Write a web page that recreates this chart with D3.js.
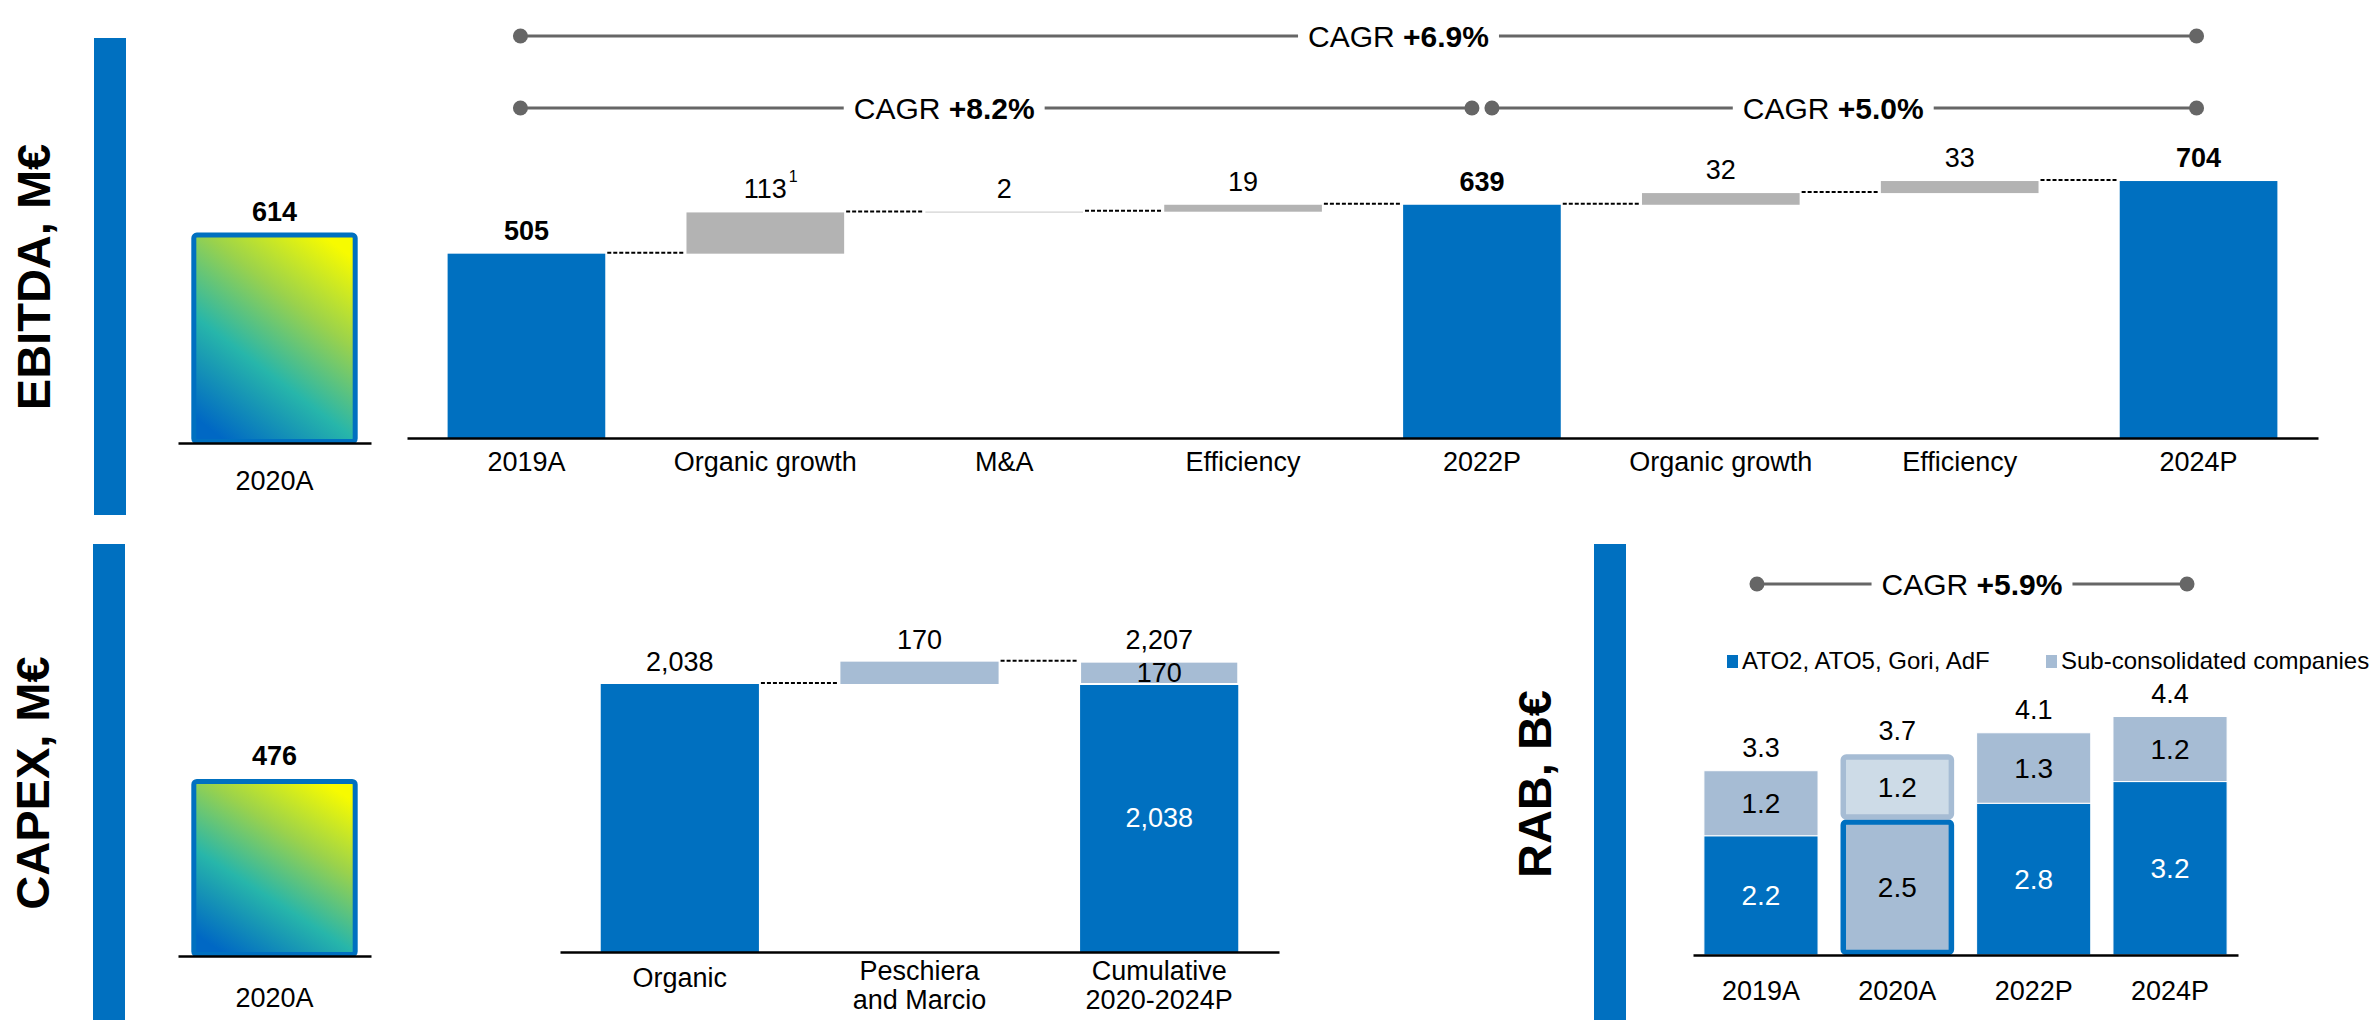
<!DOCTYPE html>
<html>
<head>
<meta charset="utf-8">
<script src="https://cdn.jsdelivr.net/npm/d3@7"></script>
<style>
    body { margin: 0; background: #fff; }
    svg text { font-family: "Liberation Sans", Arial, sans-serif; fill: #000; }
</style>
</head>
<body>
<svg id="chart" width="2374" height="1020"></svg>
<script>
// ---- data ----
var ebitdaCats = ["2019A", "Organic growth", "M&A", "Efficiency", "2022P", "Organic growth", "Efficiency", "2024P"];
var ebitdaValues = [505, 113, 2, 19, 639, 32, 33, 704];
var ebitdaTypes = ["total", "delta", "delta", "delta", "total", "delta", "delta", "total"];
var ebitdaNotes = ["", "1", "", "", "", "", "", ""];
var ebitdaCagr = [
    {from: 0, to: 7, label: "+6.9%"},
    {from: 0, to: 4, label: "+8.2%"},
    {from: 4, to: 7, label: "+5.0%"}
];
var ebitda2020 = {cat: "2020A", value: 614};

var capexCats = ["Organic", "Peschiera\nand Marcio", "Cumulative\n2020-2024P"];
var capexValues = [2038, 170, 2207];
var capexTypes = ["total", "delta", "stack"];
var capexStack = [2038, 170];
var capex2020 = {cat: "2020A", value: 476};

var rabYears = ["2019A", "2020A", "2022P", "2024P"];
var rabCore = [2.2, 2.5, 2.8, 3.2];
var rabSub = [1.2, 1.2, 1.3, 1.2];
var rabTotal = [3.3, 3.7, 4.1, 4.4];
var rabSeries = ["ATO2, ATO5, Gori, AdF", "Sub-consolidated companies"];
var rabHighlight = "2020A";
var rabCagr = [{from: 0, to: 3, label: "+5.9%"}];

// ---- styles ----
var BLUE = "#0070c0", GREY = "#b3b3b3", LIGHT = "#a6bcd4", LIGHTER = "#cddbe7", LINE_GREY = "#666666";
var FS = 27;
var fmt = d3.format(",");

var svg = d3.select("#chart");

// gradient used by the two 2020A boxes
var grad = svg.append("defs").append("linearGradient")
    .attr("id", "boxGrad")
    .attr("x1", 0.2).attr("y1", 1).attr("x2", 0.8).attr("y2", 0);
grad.append("stop").attr("offset", 0).attr("stop-color", "#0068c4");
grad.append("stop").attr("offset", 0.36).attr("stop-color", "#27b6aa");
grad.append("stop").attr("offset", 0.68).attr("stop-color", "#9ad24c");
grad.append("stop").attr("offset", 1).attr("stop-color", "#f7fb00");

// section title with the blue bar beside it
function sectionTitle(text, tx, ty, barX, barY0, barY1) {
    svg.append("rect")
        .attr("x", barX).attr("y", barY0)
        .attr("width", 32).attr("height", barY1 - barY0)
        .attr("fill", BLUE);
    svg.append("text")
        .attr("transform", "translate(" + tx + "," + ty + ") rotate(-90)")
        .attr("text-anchor", "middle")
        .style("font-size", "47px").style("font-weight", "bold")
        .text(text);
}

// running totals for a waterfall
function waterfall(values, types) {
    var run = 0;
    return values.map(function (v, i) {
        var d = {i: i, v: v, type: types[i]};
        if (types[i] === "delta") {
            d.y0 = run; d.y1 = run + v; run += v;
        } else {
            d.y0 = 0; d.y1 = v; run = v;
        }
        d.end = run;
        return d;
    });
}

function drawAxis(g, x, yPos, labels, labelY, singleShift) {
    var ax = g.append("g")
        .attr("transform", "translate(0," + yPos + ")")
        .call(d3.axisBottom(x).tickSize(0).tickSizeOuter(0).tickFormat(function (d, i) { return labels[i]; }));
    ax.select(".domain").attr("stroke", "#000").attr("stroke-width", 2.5);
    ax.selectAll(".tick text").each(function (d, i) {
        var t = d3.select(this);
        var lines = labels[i].split("\n");
        var yy = labelY + (lines.length === 1 ? (singleShift || 0) : 0);
        t.text(null).attr("y", yy).attr("dy", null)
            .style("font-size", FS + "px").attr("fill", "#000");
        lines.forEach(function (l, k) {
            t.append("tspan").attr("x", 0).attr("dy", k === 0 ? 0 : 29).text(l);
        });
    });
    ax.attr("font-family", null).attr("font-size", null);
    return ax;
}

function cagrLine(g, xa, xb, y, label, textX) {
    var t = g.append("text")
        .attr("x", textX).attr("y", y).attr("dy", "0.35em")
        .attr("text-anchor", "middle")
        .style("font-size", "30px");
    t.append("tspan").text("CAGR ");
    t.append("tspan").style("font-weight", "bold").text(label);
    var w = t.node().getComputedTextLength();
    g.append("line").attr("x1", xa).attr("x2", textX - w / 2 - 10).attr("y1", y).attr("y2", y)
        .attr("stroke", LINE_GREY).attr("stroke-width", 3);
    g.append("line").attr("x1", textX + w / 2 + 10).attr("x2", xb).attr("y1", y).attr("y2", y)
        .attr("stroke", LINE_GREY).attr("stroke-width", 3);
    g.selectAll(null).data([xa, xb]).enter().append("circle")
        .attr("cx", function (d) { return d; }).attr("cy", y).attr("r", 7.5)
        .attr("fill", LINE_GREY);
}

// small 2020A box with gradient
function miniBox(item, range, axisY, pxPerUnit, labelOff, catY) {
    var g = svg.append("g");
    var x = d3.scaleBand().domain([item.cat]).range(range).paddingInner(0).paddingOuter(0.08);
    var y = d3.scaleLinear().domain([0, item.value]).range([axisY, axisY - item.value * pxPerUnit]);
    g.append("rect")
        .attr("x", x(item.cat) + 2.5).attr("y", y(item.value))
        .attr("width", x.bandwidth() - 5).attr("height", y(0) - y(item.value) - 0.5)
        .attr("rx", 3)
        .attr("fill", "url(#boxGrad)")
        .attr("stroke", BLUE).attr("stroke-width", 5);
    drawAxis(g, x, axisY + 1, [item.cat], catY);
    g.append("text")
        .attr("x", x(item.cat) + x.bandwidth() / 2).attr("y", y(item.value) - labelOff)
        .attr("text-anchor", "middle")
        .style("font-size", FS + "px").style("font-weight", "bold")
        .text(fmt(item.value));
}

function connectors(g, data, x, y) {
    var bw = x.bandwidth();
    g.selectAll(null).data(data.slice(0, -1)).enter().append("line")
        .attr("x1", function (d) { return x(d.i) + bw + 2; })
        .attr("x2", function (d) { return x(d.i + 1) - 2; })
        .attr("y1", function (d) { return y(d.end) - 1; })
        .attr("y2", function (d) { return y(d.end) - 1; })
        .attr("stroke", "#000").attr("stroke-width", 2)
        .attr("stroke-dasharray", "4,2");
}

// ================= EBITDA =================
sectionTitle("EBITDA, M€", 50, 277, 94, 38, 515);
miniBox(ebitda2020, [178, 371], 442, 0.337, 14, 47);

(function () {
    var g = svg.append("g");
    var idx = d3.range(ebitdaCats.length);
    var x = d3.scaleBand().domain(idx).range([407, 2318]).paddingInner(0.34).paddingOuter(0.17);
    var y = d3.scaleLinear().domain([0, 700]).range([438, 438 - 700 * 0.365]);
    var data = waterfall(ebitdaValues, ebitdaTypes);
    var bw = x.bandwidth();

    connectors(g, data, x, y);

    g.selectAll(".bar").data(data).enter().append("rect")
        .attr("class", "bar")
        .attr("x", function (d) { return x(d.i); })
        .attr("y", function (d) { return y(d.y1); })
        .attr("width", bw)
        .attr("height", function (d) { return y(d.y0) - y(d.y1); })
        .attr("fill", function (d) { return d.type === "total" ? BLUE : GREY; });

    g.selectAll(".val").data(data).enter().append("text")
        .attr("class", "val")
        .attr("x", function (d) { return x(d.i) + bw / 2; })
        .attr("y", function (d) { return y(d.y1) - 14; })
        .attr("text-anchor", "middle")
        .style("font-size", FS + "px")
        .style("font-weight", function (d) { return d.type === "total" ? "bold" : "normal"; })
        .text(function (d) { return fmt(d.v); })
        .each(function (d) {
            var note = ebitdaNotes[d.i];
            if (!note) return;
            var w = this.getComputedTextLength();
            g.append("text")
                .attr("x", x(d.i) + bw / 2 + w / 2 + 2).attr("y", y(d.y1) - 30)
                .style("font-size", "16px").text(note);
        });

    drawAxis(g, x, 438, ebitdaCats, 33);

    // CAGR arrows (layout offsets kept separate from data)
    var rowsY = [36, 108];
    var endOff = [[-6, -2], [-6, -10], [10, -2]];
    var textOff = [40, -52, -11];
    ebitdaCagr.forEach(function (c, k) {
        var xa = x(c.from) + bw / 2 + endOff[k][0];
        var xb = x(c.to) + bw / 2 + endOff[k][1];
        cagrLine(g, xa, xb, k === 0 ? rowsY[0] : rowsY[1], c.label, (xa + xb) / 2 + textOff[k]);
    });
})();

// ================= CAPEX =================
sectionTitle("CAPEX, M€", 49, 783, 93, 544, 1020);
miniBox(capex2020, [178, 371], 955, 0.3645, 16, 51);

(function () {
    var g = svg.append("g");
    var idx = d3.range(capexCats.length);
    var x = d3.scaleBand().domain(idx).range([560, 1279]).paddingInner(0.34).paddingOuter(0.17);
    var y = d3.scaleLinear().domain([0, 2207]).range([952, 952 - 2207 * 0.1315]);
    var bw = x.bandwidth();
    var data = waterfall(capexValues.slice(0, 2), capexTypes.slice(0, 2));
    data.push({i: 2, v: capexValues[2], type: "stack", y0: 0, y1: d3.sum(capexStack), end: d3.sum(capexStack)});

    connectors(g, data, x, y);

    g.selectAll(".bar").data(data.slice(0, 2)).enter().append("rect")
        .attr("class", "bar")
        .attr("x", function (d) { return x(d.i); })
        .attr("y", function (d) { return y(d.y1); })
        .attr("width", bw)
        .attr("height", function (d) { return y(d.y0) - y(d.y1); })
        .attr("fill", function (d) { return d.type === "total" ? BLUE : LIGHT; });

    // cumulative stacked bar
    var segs = [];
    capexStack.reduce(function (acc, v, k) { segs.push({k: k, v: v, y0: acc, y1: acc + v}); return acc + v; }, 0);
    g.selectAll(".seg").data(segs).enter().append("rect")
        .attr("class", "seg")
        .attr("x", x(2))
        .attr("y", function (d) { return y(d.y1); })
        .attr("width", bw)
        .attr("height", function (d) { return y(d.y0) - y(d.y1); })
        .attr("fill", function (d) { return d.k === 0 ? BLUE : LIGHT; })
        .attr("stroke", "#fff").attr("stroke-width", function (d) { return d.k === 0 ? 0 : 2; });
    g.selectAll(".segval").data(segs).enter().append("text")
        .attr("class", "segval")
        .attr("x", x(2) + bw / 2)
        .attr("y", function (d) { return (y(d.y0) + y(d.y1)) / 2; })
        .attr("dy", "0.35em")
        .attr("text-anchor", "middle")
        .style("font-size", FS + "px")
        .style("fill", function (d) { return d.k === 0 ? "#fff" : "#000"; })
        .text(function (d) { return fmt(d.v); });

    g.selectAll(".val").data(data).enter().append("text")
        .attr("class", "val")
        .attr("x", function (d) { return x(d.i) + bw / 2; })
        .attr("y", function (d) { return y(d.y1) - 13; })
        .attr("text-anchor", "middle")
        .style("font-size", FS + "px")
        .text(function (d) { return fmt(d.v); });

    drawAxis(g, x, 952, capexCats, 28, 7);
})();

// ================= RAB =================
sectionTitle("RAB, B€", 1551, 784, 1594, 544, 1020);

(function () {
    var g = svg.append("g");
    var axisY = 955, ppu = 54.2;
    var x = d3.scaleBand().domain(rabYears).range([1693, 2238]).paddingInner(0.163).paddingOuter(0.08);
    var y = d3.scaleLinear().domain([0, 4.4]).range([axisY, axisY - 4.4 * ppu]);
    var bw = x.bandwidth();
    var rows = rabYears.map(function (yr, i) { return {year: yr, core: rabCore[i], sub: rabSub[i], total: rabTotal[i]}; });
    var stack = d3.stack().keys(["core", "sub"])(rows);

    stack.forEach(function (layer, li) {
        g.selectAll(null).data(layer).enter().append("rect")
            .attr("x", function (d) { return d.data.year === rabHighlight ? x(d.data.year) + 3 : x(d.data.year); })
            .attr("y", function (d) { return y(d[1]) + (d.data.year === rabHighlight ? 2.5 : 0); })
            .attr("width", function (d) { return d.data.year === rabHighlight ? bw - 6 : bw; })
            .attr("height", function (d) { return y(d[0]) - y(d[1]) - (d.data.year === rabHighlight ? 5 : 0); })
            .attr("rx", function (d) { return d.data.year === rabHighlight ? 3 : 0; })
            .attr("fill", function (d) {
                if (d.data.year === rabHighlight) return li === 0 ? LIGHT : LIGHTER;
                return li === 0 ? BLUE : LIGHT;
            })
            .attr("stroke", function (d) {
                if (d.data.year === rabHighlight) return li === 0 ? BLUE : LIGHT;
                return "#fff";
            })
            .attr("stroke-width", function (d) { return d.data.year === rabHighlight ? 5.5 : 1; });

        g.selectAll(null).data(layer).enter().append("text")
            .attr("x", function (d) { return x(d.data.year) + bw / 2; })
            .attr("y", function (d) { return (y(d[0]) + y(d[1])) / 2; })
            .attr("dy", "0.35em")
            .attr("text-anchor", "middle")
            .style("font-size", "28px")
            .style("fill", function (d) { return li === 0 && d.data.year !== rabHighlight ? "#fff" : "#000"; })
            .text(function (d) { return d.data[li === 0 ? "core" : "sub"].toFixed(1); });
    });

    g.selectAll(".tot").data(rows).enter().append("text")
        .attr("class", "tot")
        .attr("x", function (d) { return x(d.year) + bw / 2; })
        .attr("y", function (d) { return y(d.core + d.sub) - 14; })
        .attr("text-anchor", "middle")
        .style("font-size", FS + "px")
        .text(function (d) { return d.total.toFixed(1); });

    drawAxis(g, x, axisY, rabYears, 45);

    // legend
    var legX = [1727, 2046];
    rabSeries.forEach(function (s, k) {
        g.append("rect").attr("x", legX[k]).attr("y", 655).attr("width", 11).attr("height", 13)
            .attr("fill", k === 0 ? BLUE : LIGHT);
        g.append("text").attr("x", legX[k] + 15).attr("y", 669)
            .style("font-size", "24px").text(s);
    });

    var endOff = [[-4, 17]];
    rabCagr.forEach(function (c, k) {
        var xa = x(rabYears[c.from]) + bw / 2 + endOff[k][0];
        var xb = x(rabYears[c.to]) + bw / 2 + endOff[k][1];
        cagrLine(g, xa, xb, 584, c.label, (xa + xb) / 2);
    });
})();
</script>
</body>
</html>
